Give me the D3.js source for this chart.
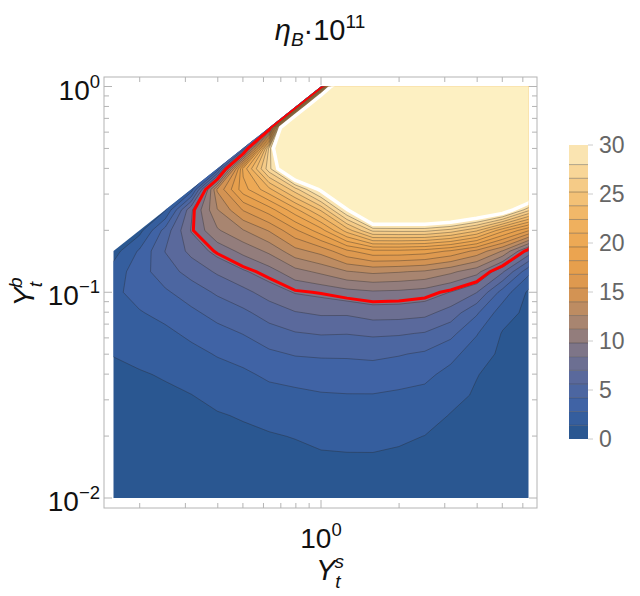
<!DOCTYPE html>
<html>
<head>
<meta charset="utf-8">
<script src="https://cdn.jsdelivr.net/npm/d3@7"></script>
<style>
  body { margin: 0; background: #fff; }
  text { font-family: "Liberation Sans", Arial, sans-serif; }
</style>
</head>
<body>
<svg id="chart"></svg>
<script>
// eta_B * 1e11 on a log grid (step 0.1 decade)
// columns: log10(Y_t^s), rows: log10(Y_t^b) from top (0) to bottom (-2)
const logYs = [-0.8, -0.7, -0.6, -0.5, -0.4, -0.3, -0.2, -0.1, 0, 0.1, 0.2, 0.3, 0.4, 0.5, 0.6, 0.7, 0.8];
const logYb = [0, -0.1, -0.2, -0.3, -0.4, -0.5, -0.6, -0.7, -0.8, -0.9, -1.0, -1.1, -1.2, -1.3, -1.4, -1.5, -1.6, -1.7, -1.8, -1.9, -2.0];

// null = no data (Y_t^b > Y_t^s)
const eta = [
  [null, null, null, null, null, null, null, null, 8.0, 65, 60, 55, 52, 50, 50, 50, 50],
  [null, null, null, null, null, null, null, 7.5, 60, 60, 55, 52, 50, 48, 48, 48, 49],
  [null, null, null, null, null, null, 6.5, 60, 48, 55, 52, 50, 48, 47, 46, 46, 48],
  [null, null, null, null, null, 4.5, 27, 45, 44, 50, 50, 48, 47, 45, 44, 44, 46],
  [null, null, null, null, 3.0, 20, 27.5, 35, 38, 45, 47, 46, 45, 43, 42, 41, 42],
  [null, null, null, 2.0, 14.2, 19, 22, 26, 30.5, 38, 43, 43, 43, 42, 40, 38, 36],
  [null, null, 1.3, 8.2, 12.5, 15.5, 17.5, 20.5, 24, 29.7, 37, 37, 37, 36, 34, 32, 27],
  [null, 0.9, 4.8, 8.5, 11, 12.5, 14.1, 16.5, 19, 23, 26.9, 27, 27, 26, 24, 20, 16.9],
  [0.8, 3.0, 5.65, 7.4, 8.9, 10.2, 11.5, 13.5, 14.5, 16.5, 17.8, 17.8, 17.5, 16.6, 15, 12.5, 8.0],
  [2.0, 3.6, 5.0, 6.1, 7.2, 8.2, 9.2, 10.7, 11.5, 12.5, 12.9, 12.7, 12.4, 11.5, 10.3, 7.2, 3.2],
  [2.5, 3.3, 4.0, 4.9, 5.8, 6.6, 7.6, 8.5, 8.8, 9.3, 9.6, 9.5, 9.2, 8.35, 7.05, 3.6, 1.15],
  [2.4, 2.7, 3.2, 3.9, 4.7, 5.3, 6.2, 6.9, 7.2, 7.2, 7.63, 7.6, 7.4, 6.4, 4.4, 2.0, 1.05],
  [2.0, 2.15, 2.5, 3.1, 3.7, 4.25, 5.0, 5.5, 5.7, 5.65, 5.83, 5.75, 5.5, 4.6, 2.9, 1.3, 0.95],
  [1.45, 1.7, 1.95, 2.4, 2.9, 3.3, 3.95, 4.3, 4.4, 4.4, 4.5, 4.3, 4.0, 3.2, 2.1, 1.1, 0.85],
  [1.1, 1.3, 1.5, 1.85, 2.25, 2.55, 3.05, 3.3, 3.4, 3.5, 3.56, 3.35, 3.1, 2.4, 1.45, 0.95, 0.75],
  [0.9, 1.05, 1.2, 1.38, 1.75, 1.95, 2.35, 2.5, 2.7, 2.75, 2.75, 2.6, 2.45, 1.8, 1.25, 0.8, 0.6],
  [0.75, 0.85, 0.95, 1.1, 1.3, 1.5, 1.75, 1.9, 2.2, 2.25, 2.26, 2.1, 1.9, 1.33, 1.05, 0.65, 0.5],
  [0.6, 0.7, 0.75, 0.85, 1.0, 1.15, 1.3, 1.45, 1.7, 1.75, 1.77, 1.6, 1.38, 1.15, 0.85, 0.5, 0.4],
  [0.5, 0.55, 0.6, 0.65, 0.75, 0.85, 0.95, 1.1, 1.25, 1.3, 1.3, 1.2, 1.05, 0.95, 0.65, 0.35, 0.3],
  [0.4, 0.42, 0.45, 0.45, 0.5, 0.6, 0.65, 0.75, 0.8, 0.8, 0.8, 0.85, 0.8, 0.7, 0.45, 0.25, 0.2],
  [0.3, 0.3, 0.3, 0.3, 0.3, 0.3, 0.35, 0.4, 0.4, 0.4, 0.4, 0.5, 0.55, 0.45, 0.3, 0.15, 0.1]
];

const levels = [1.4, 2.8, 4.2, 5.6, 7.0, 8.4, 9.8, 11.2, 12.6, 14.0, 15.4, 16.8, 18.2, 19.6, 21.0, 22.4, 23.8, 25.2, 26.6, 28.0];
const upperLevel = 30;      // white contour, pale region above
const observedLevel = 8.7;  // red contour

const xMajor = [1];
const xMinor = [0.2, 0.3, 0.4, 0.5, 0.6, 0.7, 0.8, 0.9, 2, 3, 4, 5, 6];
const yMajor = [0.01, 0.1, 1];
const yMinor = [0.02, 0.03, 0.04, 0.05, 0.06, 0.07, 0.08, 0.09, 0.2, 0.3, 0.4, 0.5, 0.6, 0.7, 0.8, 0.9];
const yMajorExp = ["\u22122", "\u22121", "0"];
const legendTicks = [0, 5, 10, 15, 20, 25, 30];

const W = 640, H = 596;
const svg = d3.select("#chart").attr("width", W).attr("height", H);

const xScale = d3.scaleLog().domain([10 ** -0.8, 10 ** 0.8]).range([113.5, 528.5]);
const yScale = d3.scaleLog().domain([0.01, 1]).range([498, 86.5]);
const frame = { x0: 104, x1: 537, y0: 77, y1: 508 };

// colour map
const color = d3.scaleLinear()
  .domain([0, 3, 6, 9, 12, 15, 18, 21, 24, 27, 30])
  .range(["#25548a", "#3c62a6", "#56689e", "#7d7489", "#a9866f", "#d89450", "#e9a14c", "#eeac58", "#f2bd70", "#f7d394", "#fcecbf"])
  .interpolate(d3.interpolateRgb);
const topColor = "#fdf0c2";

// grid -> contours. Empty corner gets the column's edge value, then is clipped away.
const nx = logYs.length, ny = logYb.length;
const values = [];
for (let j = 0; j < ny; j++) {
  for (let i = 0; i < nx; i++) {
    let v = eta[j][i];
    if (v == null) {
      let k = j;
      while (eta[k][i] == null) k++;
      v = eta[k][i];
    }
    values.push(v);
  }
}

const thresholds = [0, ...levels, upperLevel];
const contours = d3.contours().size([nx, ny]).thresholds(thresholds);
const bands = contours(values);

const stepX = logYs[1] - logYs[0], stepY = logYb[1] - logYb[0];
const proj = d3.geoTransform({
  point(x, y) {
    const lx = logYs[0] + (x - 0.5) * stepX;
    const ly = logYb[0] + (y - 0.5) * stepY;
    this.stream.point(xScale(10 ** lx), yScale(10 ** ly));
  }
});
const path = d3.geoPath(proj);

// clip: data rectangle minus the region above the diagonal
const clipPts = [
  [xScale(10 ** -0.8), yScale(0.01)],
  [xScale(10 ** 0.8), yScale(0.01)],
  [xScale(10 ** 0.8), yScale(1)],
  [xScale(1), yScale(1)],
  [xScale(10 ** -0.8), yScale(10 ** -0.8)]
];
svg.append("defs").append("clipPath").attr("id", "dataClip")
  .append("polygon").attr("points", clipPts.map(p => p.join(",")).join(" "));

const plot = svg.append("g").attr("clip-path", "url(#dataClip)");

plot.selectAll("path.band")
  .data(bands)
  .join("path")
    .attr("class", "band")
    .attr("d", path)
    .attr("fill", (d, i) => i < thresholds.length - 1 ? color((thresholds[i] + thresholds[i + 1]) / 2) : topColor)
    .attr("stroke", "none");

plot.selectAll("path.level")
  .data(levels.map(l => contours.contour(values, l)))
  .join("path")
    .attr("class", "level")
    .attr("d", path)
    .attr("fill", "none")
    .attr("stroke", "rgba(40,40,40,0.45)")
    .attr("stroke-width", 0.8);

plot.append("path")
  .attr("d", path(contours.contour(values, upperLevel)))
  .attr("fill", "none")
  .attr("stroke", "#ffffff")
  .attr("stroke-width", 3.5);

plot.append("path")
  .attr("d", path(contours.contour(values, observedLevel)))
  .attr("fill", "none")
  .attr("stroke", "#ff0000")
  .attr("stroke-width", 3);

// frame and ticks
const axisColor = "#b4b4b4";
svg.append("rect")
  .attr("x", frame.x0).attr("y", frame.y0)
  .attr("width", frame.x1 - frame.x0).attr("height", frame.y1 - frame.y0)
  .attr("fill", "none").attr("stroke", axisColor).attr("stroke-width", 1);

const ticksG = svg.append("g").attr("stroke", axisColor).attr("stroke-width", 1);
function xTick(v, len) {
  const x = xScale(v);
  ticksG.append("line").attr("x1", x).attr("x2", x).attr("y1", frame.y1).attr("y2", frame.y1 - len);
  ticksG.append("line").attr("x1", x).attr("x2", x).attr("y1", frame.y0).attr("y2", frame.y0 + len);
}
function yTick(v, len) {
  const y = yScale(v);
  ticksG.append("line").attr("y1", y).attr("y2", y).attr("x1", frame.x0).attr("x2", frame.x0 + len);
  ticksG.append("line").attr("y1", y).attr("y2", y).attr("x1", frame.x1).attr("x2", frame.x1 - len);
}
xMajor.forEach(v => xTick(v, 8));
xMinor.forEach(v => xTick(v, 5));
yMajor.forEach(v => yTick(v, 8));
yMinor.forEach(v => yTick(v, 5));

function powerLabel(g, exp, size) {
  g.append("tspan").text("10");
  g.append("tspan").attr("dy", -size * 0.42).attr("font-size", size * 0.66).text(exp);
}

const xl = svg.append("text")
  .attr("x", xScale(1)).attr("y", 548)
  .attr("text-anchor", "middle").attr("font-size", 28).attr("fill", "#111");
powerLabel(xl, "0", 28);

yMajor.forEach((v, i) => {
  const t = svg.append("text")
    .attr("x", 100).attr("y", yScale(v) + 13)
    .attr("text-anchor", "end").attr("font-size", 28).attr("fill", "#111");
  powerLabel(t, yMajorExp[i], 28);
});

// title
const title = svg.append("text")
  .attr("x", 320).attr("y", 40)
  .attr("text-anchor", "middle").attr("font-size", 29).attr("fill", "#111");
title.append("tspan").attr("font-style", "italic").text("\u03b7");
title.append("tspan").attr("font-style", "italic").attr("font-size", 19).attr("dy", 6).text("B");
title.append("tspan").attr("dy", -6).text("\u00b710");
title.append("tspan").attr("font-size", 19).attr("dy", -12).text("11");

// axis labels
const xLab = svg.append("text")
  .attr("x", 330).attr("y", 580)
  .attr("text-anchor", "middle").attr("font-size", 29).attr("fill", "#111")
  .attr("font-style", "italic");
xLab.append("tspan").text("Y");
xLab.append("tspan").attr("font-size", 19).attr("dy", 8).text("t");
xLab.append("tspan").attr("font-size", 19).attr("dx", -6).attr("dy", -20).text("s");

const yLab = svg.append("text")
  .attr("transform", "translate(34,292) rotate(-90)")
  .attr("text-anchor", "middle").attr("font-size", 29).attr("fill", "#111")
  .attr("font-style", "italic");
yLab.append("tspan").text("Y");
yLab.append("tspan").attr("font-size", 19).attr("dy", 8).text("t");
yLab.append("tspan").attr("font-size", 19).attr("dx", -6).attr("dy", -20).text("b");

// legend
const legY = d3.scaleLinear().domain([0, 30]).range([439, 145]);
const legX = 569, legW = 19;
const legEdges = [0, ...levels, upperLevel];
const leg = svg.append("g");
leg.selectAll("rect")
  .data(d3.pairs(legEdges))
  .join("rect")
    .attr("x", legX).attr("width", legW)
    .attr("y", d => legY(d[1]))
    .attr("height", d => legY(d[0]) - legY(d[1]))
    .attr("fill", d => color((d[0] + d[1]) / 2));
leg.selectAll("line.lv")
  .data(levels)
  .join("line")
    .attr("class", "lv")
    .attr("x1", legX).attr("x2", legX + legW)
    .attr("y1", d => legY(d)).attr("y2", d => legY(d))
    .attr("stroke", "rgba(40,40,40,0.45)").attr("stroke-width", 0.8);
leg.selectAll("line.tk")
  .data(legendTicks)
  .join("line")
    .attr("class", "tk")
    .attr("x1", legX + legW).attr("x2", legX + legW + 5)
    .attr("y1", d => legY(d)).attr("y2", d => legY(d))
    .attr("stroke", "#ccc");
leg.selectAll("text")
  .data(legendTicks)
  .join("text")
    .attr("x", 599).attr("y", d => legY(d))
    .attr("dy", "0.36em")
    .attr("font-size", 23).attr("fill", "#666")
    .text(d => d);
</script>
</body>
</html>
